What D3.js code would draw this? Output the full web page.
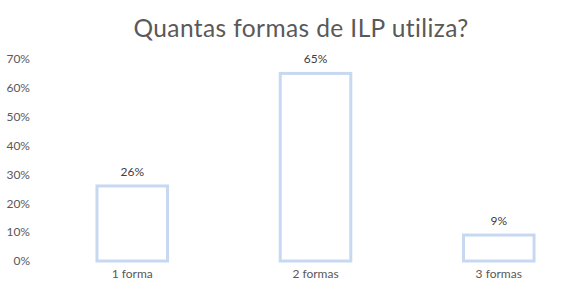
<!DOCTYPE html>
<html>
<head>
<meta charset="utf-8">
<script src="https://cdn.jsdelivr.net/npm/d3@7"></script>
<style>
  body { margin: 0; background: #fff; }
  svg { display: block; font-family: Lato, "Open Sans", sans-serif; font-variant-ligatures: none; }
</style>
</head>
<body>
<svg id="chart" width="588" height="292"></svg>
<script>
const categories = ['1 forma', '2 formas', '3 formas'];
const values = [0.26, 0.65, 0.09];
const yTicks = [0, 0.1, 0.2, 0.3, 0.4, 0.5, 0.6, 0.7];

const svg = d3.select('#chart');
const margin = { top: 59, right: 0, bottom: 31, left: 42 };
const width = 588, height = 292;

const x = d3.scaleBand()
  .domain(categories)
  .range([margin.left, width - margin.right + 1])
  .paddingInner(0.615)
  .paddingOuter(0.3);

const y = d3.scaleLinear()
  .domain([0, 0.7])
  .range([height - margin.bottom, margin.top]);

// title
svg.append('text')
  .attr('x', 301)
  .attr('y', 37)
  .attr('text-anchor', 'middle')
  .attr('font-size', 24.5)
  .attr('letter-spacing', 0.4)
  .attr('fill', '#595959')
  .text('Quantas formas de ILP utiliza?');

// y axis, labels only
const yAxis = d3.axisLeft(y)
  .tickValues(yTicks)
  .tickFormat(d3.format('.0%'))
  .tickSize(0)
  .tickPadding(0);

svg.append('g')
  .attr('transform', `translate(${margin.left - 12},0)`)
  .call(yAxis)
  .attr('font-family', null)
  .attr('font-size', null)
  .call(g => g.select('.domain').remove())
  .selectAll('text')
  .attr('font-size', 12)
  .attr('fill', '#595959');

// x axis, labels only
const xAxis = d3.axisBottom(x).tickSize(0).tickPadding(0);
svg.append('g')
  .attr('transform', `translate(0,${height - margin.bottom + 8})`)
  .call(xAxis)
  .attr('font-family', null)
  .attr('font-size', null)
  .call(g => g.select('.domain').remove())
  .selectAll('text')
  .attr('font-size', 12)
  .attr('fill', '#595959');

// bars
svg.append('g')
  .selectAll('rect')
  .data(values)
  .join('rect')
  .attr('x', (d, i) => x(categories[i]))
  .attr('y', d => y(d))
  .attr('width', x.bandwidth())
  .attr('height', d => y(0) - y(d))
  .attr('fill', '#fff')
  .attr('stroke', '#c6d9f1')
  .attr('stroke-width', 3);

// value labels
svg.append('g')
  .selectAll('text')
  .data(values)
  .join('text')
  .attr('x', (d, i) => x(categories[i]) + x.bandwidth() / 2)
  .attr('y', d => y(d) - 10)
  .attr('text-anchor', 'middle')
  .attr('font-size', 12)
  .attr('fill', '#404040')
  .text(d => d3.format('.0%')(d));
</script>
</body>
</html>
